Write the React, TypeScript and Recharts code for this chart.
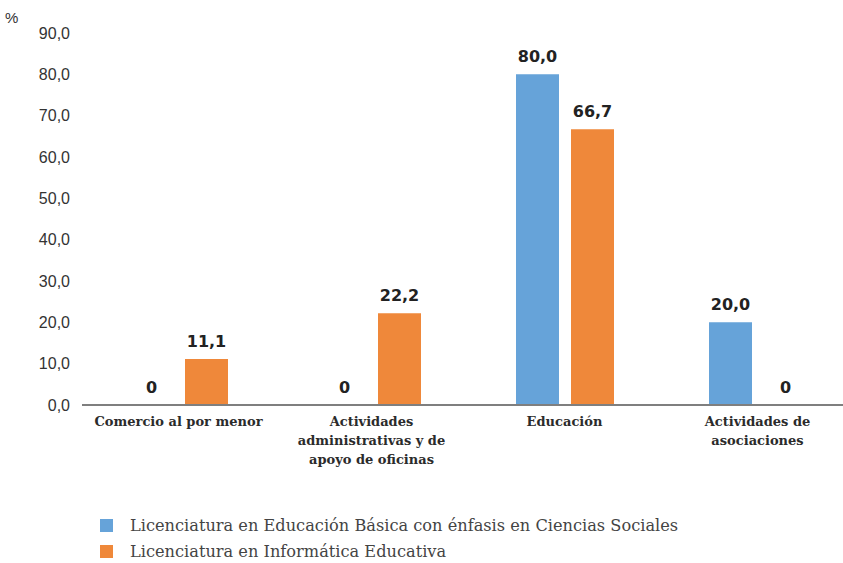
import React from 'react';
import { BarChart, Bar, XAxis, YAxis, LabelList } from 'recharts';

const categories = [
  'Comercio al por menor',
  'Actividades\nadministrativas y de\napoyo de oficinas',
  'Educación',
  'Actividades de\nasociaciones',
];
const socialesValues = [0, 0, 80.0, 20.0];
const informaticaValues = [11.1, 22.2, 66.7, 0];
const yTicks = [0, 10, 20, 30, 40, 50, 60, 70, 80, 90];

const series = [
  { key: 'sociales', name: 'Licenciatura en Educación Básica con énfasis en Ciencias Sociales', color: '#66a3d9' },
  { key: 'informatica', name: 'Licenciatura en Informática Educativa', color: '#ef883a' },
];

const data = categories.map((c, i) => ({
  category: c,
  sociales: socialesValues[i],
  informatica: informaticaValues[i],
}));

const fmtTick = (v: number) => v.toFixed(1).replace('.', ',');
const fmtValue = (v: number) => (v === 0 ? '0' : v.toFixed(1).replace('.', ','));

const CategoryTick = (props: any) => {
  const { x, y, payload } = props;
  const lines = String(payload.value).split('\n');
  return (
    <text
      x={x}
      y={y}
      textAnchor="middle"
      fill="#2b2b2b"
      fontFamily="'DejaVu Serif', serif"
      fontWeight="bold"
      fontSize={13}
    >
      {lines.map((l, i) => (
        <tspan key={i} x={x} dy={i === 0 ? 17 : 19}>
          {l}
        </tspan>
      ))}
    </text>
  );
};

export default function App() {
  return (
    <div style={{ position: 'absolute', left: 0, top: 0, width: 843, height: 563, overflow: 'hidden', background: '#fff' }}>
      <div style={{ position: 'absolute', left: 5, top: 9, fontFamily: "'Liberation Sans', Arial, sans-serif", fontSize: 15, color: '#333' }}>%</div>
      <BarChart
        width={856}
        height={563}
        data={data}
        margin={{ top: 33, right: 2, bottom: 78, left: 0 }}
        barSize={43}
        barGap={12}
      >
        <YAxis
          width={82}
          domain={[0, 90]}
          ticks={yTicks}
          interval={0}
          tickFormatter={fmtTick}
          axisLine={false}
          tickLine={false}
          tickSize={0}
          tickMargin={12}
          tick={{ fill: '#333', fontSize: 16, fontFamily: "'Liberation Sans', Arial, sans-serif" }}
        />
        {series.map((s) => (
          <Bar key={s.key} dataKey={s.key} name={s.name} fill={s.color} minPointSize={0.1} isAnimationActive={false}>
            <LabelList
              dataKey={s.key}
              position="top"
              offset={12}
              formatter={(v: any) => fmtValue(Number(v))}
              fill="#222"
              fontSize={16}
              fontWeight="bold"
              fontFamily="'DejaVu Sans', sans-serif"
            />
          </Bar>
        ))}
        <XAxis
          dataKey="category"
          height={80}
          interval={0}
          tickLine={false}
          tickSize={0}
          tickMargin={4}
          axisLine={{ stroke: '#7f7f7f', strokeWidth: 2 }}
          tick={<CategoryTick />}
        />
      </BarChart>
      <div style={{ position: 'absolute', left: 100, top: 512 }}>
        {series.map((s) => (
          <div key={s.key} style={{ display: 'flex', alignItems: 'center', height: 26 }}>
            <span style={{ display: 'inline-block', width: 13, height: 13, background: s.color, marginRight: 17 }} />
            <span style={{ fontFamily: "'DejaVu Serif', serif", fontSize: 16.2, color: '#444', whiteSpace: 'nowrap' }}>{s.name}</span>
          </div>
        ))}
      </div>
    </div>
  );
}
